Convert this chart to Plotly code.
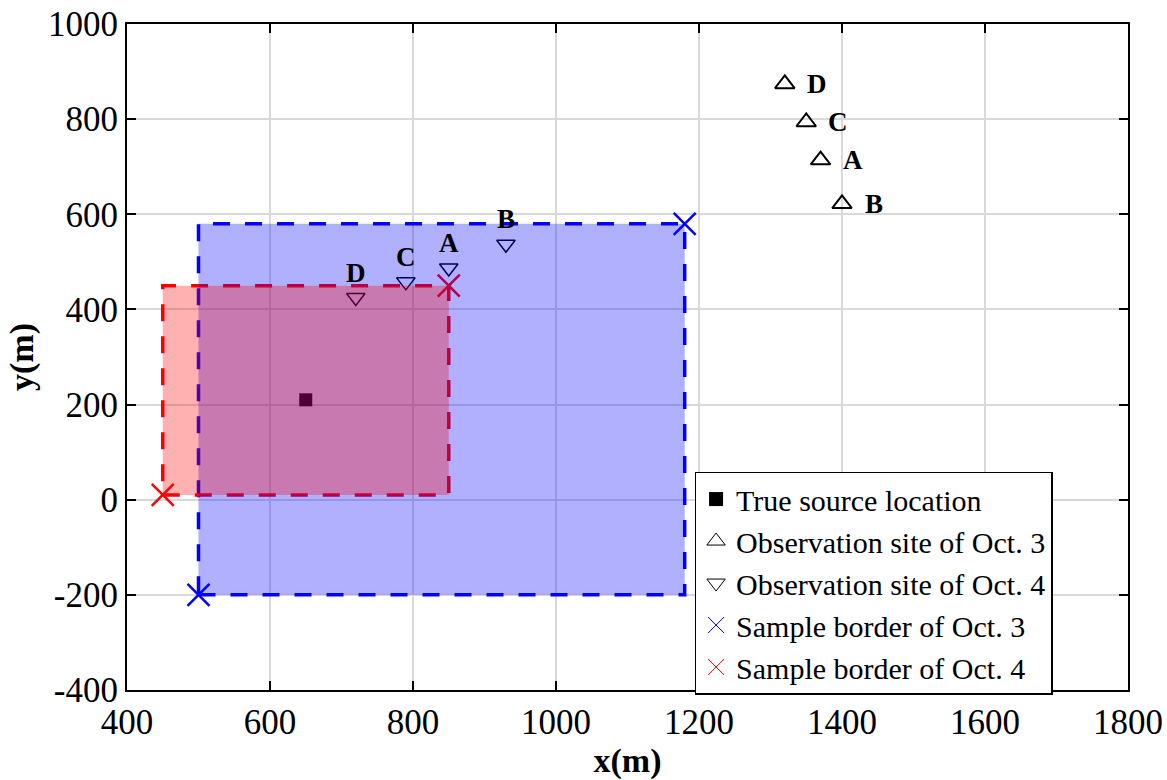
import plotly.graph_objects as go

# ---- data ----
source_x = [650]
source_y = [210]

oct3_labels = ["D", "C", "A", "B"]
oct3_x = [1320, 1350, 1370, 1400]
oct3_y = [874, 794, 714, 622]

oct4_labels = ["D", "C", "A", "B"]
oct4_x = [720, 790, 850, 930]
oct4_y = [425, 458, 487, 537]

blue_xr = [500, 1180]
blue_yr = [-200, 580]
red_xr = [450, 850]
red_yr = [10, 450]

x_ticks = [400, 600, 800, 1000, 1200, 1400, 1600, 1800]
y_ticks = [-400, -200, 0, 200, 400, 600, 800, 1000]

FONT = "Liberation Serif, Times New Roman, serif"


def rect(xr, yr):
    xs = [xr[0], xr[1], xr[1], xr[0], xr[0]]
    ys = [yr[0], yr[0], yr[1], yr[1], yr[0]]
    return xs, ys


fig = go.Figure()

# markers beneath fills
fig.add_trace(go.Scatter(x=oct4_x, y=oct4_y, mode="markers", showlegend=False,
                         marker=dict(symbol="triangle-down-open", size=16, color="black",
                                     line=dict(width=1.5, color="black"))))
fig.add_trace(go.Scatter(x=oct3_x, y=oct3_y, mode="markers", showlegend=False,
                         marker=dict(symbol="triangle-up-open", size=17, color="black",
                                     line=dict(width=2, color="black"))))
fig.add_trace(go.Scatter(x=source_x, y=source_y, mode="markers", showlegend=False,
                         marker=dict(symbol="square", size=13, color="black")))

# dashed borders
bx, by = rect(blue_xr, blue_yr)
rx, ry = rect(red_xr, red_yr)
fig.add_trace(go.Scatter(x=bx, y=by, mode="lines", showlegend=False,
                         line=dict(color="#0000ff", width=3.5, dash="17px,15px")))
fig.add_trace(go.Scatter(x=rx, y=ry, mode="lines", showlegend=False,
                         line=dict(color="#ff0000", width=3.5, dash="17px,15px")))

# corner crosses
fig.add_trace(go.Scatter(x=blue_xr, y=blue_yr, mode="markers", showlegend=False,
                         marker=dict(symbol="x-thin-open", size=22, color="#0000ff",
                                     line=dict(width=2.5, color="#0000ff"))))
fig.add_trace(go.Scatter(x=red_xr, y=red_yr, mode="markers", showlegend=False,
                         marker=dict(symbol="x-thin-open", size=22, color="#ff0000",
                                     line=dict(width=2.5, color="#ff0000"))))

# translucent fills on top
fig.add_trace(go.Scatter(x=bx, y=by, mode="lines", fill="toself", showlegend=False,
                         fillcolor="rgba(0,0,255,0.31)", line=dict(width=0),
                         hoverinfo="skip"))
fig.add_trace(go.Scatter(x=rx, y=ry, mode="lines", fill="toself", showlegend=False,
                         fillcolor="rgba(255,0,0,0.31)", line=dict(width=0),
                         hoverinfo="skip"))

# legend-only entries
fig.add_trace(go.Scatter(x=[None], y=[None], mode="markers", name="True source location",
                         marker=dict(symbol="square", size=14, color="black")))
fig.add_trace(go.Scatter(x=[None], y=[None], mode="markers", name="Observation site of Oct. 3",
                         marker=dict(symbol="triangle-up-open", size=16, color="black",
                                     line=dict(width=1, color="black"))))
fig.add_trace(go.Scatter(x=[None], y=[None], mode="markers", name="Observation site of Oct. 4",
                         marker=dict(symbol="triangle-down-open", size=16, color="black",
                                     line=dict(width=1, color="black"))))
fig.add_trace(go.Scatter(x=[None], y=[None], mode="markers", name="Sample border of Oct. 3",
                         marker=dict(symbol="x-thin-open", size=16, color="#0000ff",
                                     line=dict(width=1, color="#0000ff"))))
fig.add_trace(go.Scatter(x=[None], y=[None], mode="markers", name="Sample border of Oct. 4",
                         marker=dict(symbol="x-thin-open", size=16, color="#ff0000",
                                     line=dict(width=1, color="#ff0000"))))

# site labels
for lab, x, y in zip(oct3_labels, oct3_x, oct3_y):
    fig.add_annotation(x=x, y=y, text=f"<b>{lab}</b>", showarrow=False, xshift=32,
                       font=dict(family=FONT, size=27, color="black"))
for lab, x, y in zip(oct4_labels, oct4_x, oct4_y):
    fig.add_annotation(x=x, y=y, text=f"<b>{lab}</b>", showarrow=False, yshift=25,
                       font=dict(family=FONT, size=27, color="black"))

axis_common = dict(
    showline=True, linecolor="black", linewidth=2, mirror="ticks",
    ticks="inside", ticklen=9, tickwidth=2, tickcolor="black",
    showgrid=True, gridcolor="#d9d9d9", gridwidth=1.5, zeroline=False,
    tickfont=dict(family=FONT, size=35, color="black"),
    automargin=False, ticklabeloverflow="allow",
)

fig.update_xaxes(range=[400, 1800], tickmode="array", tickvals=x_ticks,
                 ticktext=[str(v) for v in x_ticks],
                 title=dict(text="<b>x(m)</b>", font=dict(family=FONT, size=34, color="black"),
                            standoff=8),
                 **axis_common)
fig.update_yaxes(range=[-400, 1000], tickmode="array", tickvals=y_ticks,
                 ticktext=[str(v) for v in y_ticks],
                 title=dict(text="<b>y(m)</b>", font=dict(family=FONT, size=34, color="black"),
                            standoff=4),
                 **axis_common)

fig.update_layout(
    width=1167, height=780,
    margin=dict(l=127, r=39, t=24, b=90),
    paper_bgcolor="white", plot_bgcolor="white",
    font=dict(family=FONT, color="black"),
    legend=dict(x=0.567, y=0.328, xanchor="left", yanchor="top",
                bgcolor="white", bordercolor="black", borderwidth=1.5,
                font=dict(family=FONT, size=30, color="black"),
                itemsizing="trace"),
)

fig.write_html(
    "out.html",
    config={"displayModeBar": False},
    post_script="document.body.style.margin='0';document.body.style.overflow='hidden';",
)
